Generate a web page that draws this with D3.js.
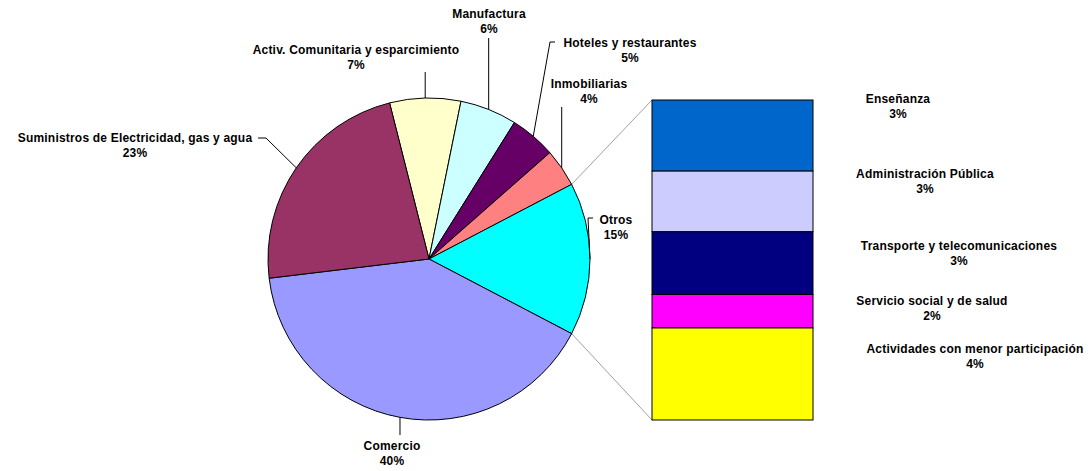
<!DOCTYPE html>
<html>
<head>
<meta charset="utf-8">
<script src="https://cdn.jsdelivr.net/npm/d3@7"></script>
<style>
  body { margin: 0; background: #fff; }
  text { font-family: "Liberation Sans", Arial, sans-serif; font-weight: bold; font-size: 12px; letter-spacing: 0.2px; fill: #000; }
</style>
</head>
<body>
<div id="chart"></div>
<script>
// Breakdown of "Otros" (drawn as the stacked bar on the right)
const subCats = ["Enseñanza", "Administración Pública", "Transporte y telecomunicaciones",
                 "Servicio social y de salud", "Actividades con menor participación"];
const subVals = [3.4, 2.9, 3.0, 1.6, 4.4];
const subColors = ["#0066CC", "#CCCCFF", "#000080", "#FF00FF", "#FFFF00"];

// Main pie, clockwise from the top
const mainCats = ["Activ. Comunitaria y esparcimiento", "Manufactura", "Hoteles y restaurantes",
                  "Inmobiliarias", "Otros", "Comercio", "Suministros de Electricidad, gas y agua"];
const mainVals = [7.1, 5.7, 4.6, 3.8, d3.sum(subVals), 40.3, 22.9];
const mainColors = ["#FFFFCC", "#CCFFFF", "#660066", "#FF8080", "#00FFFF", "#9999FF", "#993366"];

const width = 1090, height = 471;
const cx = 429, cy = 259, r = 161;
const total = d3.sum(mainVals);
const otrosIdx = mainCats.indexOf("Otros");
const pct = v => Math.round(v / total * 100) + "%";

// label placement (first line baseline) and leader lines
const labelPos = {
    "Activ. Comunitaria y esparcimiento": [356, 54],
    "Manufactura": [489, 18],
    "Hoteles y restaurantes": [630, 47],
    "Inmobiliarias": [589, 88],
    "Otros": [616, 224],
    "Comercio": [392, 450],
    "Suministros de Electricidad, gas y agua": [135, 142]
};
const leaders = {
    "Activ. Comunitaria y esparcimiento": { y: 72 },
    "Manufactura": { y: 38 },
    "Hoteles y restaurantes": { pts: [[555, 42], [550, 42]] },
    "Inmobiliarias": { y: 107 },
    "Otros": { pts: [[593, 218], [588, 218]] },
    "Comercio": { y: 435 },
    "Suministros de Electricidad, gas y agua": { pts: [[258, 138], [266, 138]] }
};
const subLabelPos = [[898, 103], [925, 178], [959, 250], [932, 305], [975, 353]];

const svg = d3.select("#chart").append("svg")
    .attr("width", width)
    .attr("height", height);

// Otros centred on the right side of the pie
const before = d3.sum(mainVals.slice(0, otrosIdx));
const start = Math.PI / 2 - 2 * Math.PI * (before + mainVals[otrosIdx] / 2) / total;

const pie = d3.pie().sort(null).value(d => d)
    .startAngle(start).endAngle(start + 2 * Math.PI);
const arc = d3.arc().innerRadius(0).outerRadius(r);
const arcs = pie(mainVals);

const onEdge = a => [cx + r * Math.sin(a), cy - r * Math.cos(a)];

// Bar for the breakdown
const barX = 652, barW = 161;
const y = d3.scaleLinear().domain([0, d3.sum(subVals)]).range([100, 420]);
const cum = d3.cumsum(subVals);

// connector lines
const o = arcs[otrosIdx];
[[o.startAngle, y(0)], [o.endAngle, y(d3.sum(subVals))]].forEach(([a, by]) => {
    const p = onEdge(a);
    svg.append("line")
        .attr("x1", p[0]).attr("y1", p[1])
        .attr("x2", barX).attr("y2", by)
        .attr("stroke", "#808080")
        .attr("stroke-width", 0.75);
});

svg.append("g")
    .attr("transform", `translate(${cx},${cy})`)
    .selectAll("path")
    .data(arcs)
    .enter()
    .append("path")
    .attr("d", arc)
    .attr("fill", (d, i) => mainColors[i])
    .attr("stroke", "#000")
    .attr("stroke-width", 1);

svg.selectAll("rect.sub")
    .data(subVals)
    .enter()
    .append("rect")
    .attr("class", "sub")
    .attr("x", barX)
    .attr("y", (d, i) => y(cum[i] - d))
    .attr("width", barW)
    .attr("height", d => y(d) - y(0))
    .attr("fill", (d, i) => subColors[i])
    .attr("stroke", "#000")
    .attr("stroke-width", 1);

// leader lines
arcs.forEach((d, i) => {
    const cat = mainCats[i];
    const p = onEdge((d.startAngle + d.endAngle) / 2);
    const l = leaders[cat];
    const pts = l.pts ? l.pts.concat([p]) : [[p[0], l.y], p];
    svg.append("path")
        .attr("d", d3.line()(pts))
        .attr("fill", "none")
        .attr("stroke", "#000")
        .attr("stroke-width", 1);
});

// labels
function label(x, yy, name, val) {
    const t = svg.append("text").attr("text-anchor", "middle");
    t.append("tspan").attr("x", x).attr("y", yy).text(name);
    t.append("tspan").attr("x", x).attr("y", yy + 15).text(pct(val));
}
mainCats.forEach((c, i) => label(labelPos[c][0], labelPos[c][1], c, mainVals[i]));
subCats.forEach((c, i) => label(subLabelPos[i][0], subLabelPos[i][1], c, subVals[i]));
</script>
</body>
</html>
